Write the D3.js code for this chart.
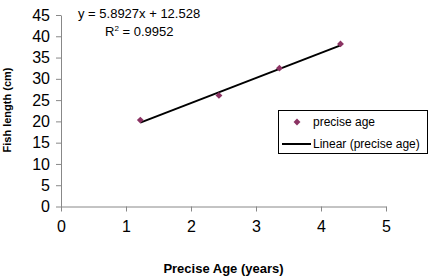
<!DOCTYPE html>
<html>
<head>
<meta charset="utf-8">
<script src="https://cdn.jsdelivr.net/npm/d3@7"></script>
<style>
  body { margin: 0; background: #fff; }
  svg text { font-family: "Liberation Sans", Arial, sans-serif; fill: #000; }
  .axis path, .axis line { stroke: #888; }
</style>
</head>
<body>
<div id="chart"></div>
<script>
// precise age (years) vs fish length (cm)
var ages = [1.22, 2.43, 3.36, 4.30];
var lengths = [20.3, 26.1, 32.5, 38.2];
// trendline as printed on the chart
var slope = 5.8927, intercept = 12.528, rSquared = 0.9952;
var xTicks = [0, 1, 2, 3, 4, 5];
var yTicks = [0, 5, 10, 15, 20, 25, 30, 35, 40, 45];

var width = 432, height = 277;
var margin = {top: 15, right: 46, bottom: 71, left: 61};

var svg = d3.select('#chart').append('svg')
  .attr('width', width)
  .attr('height', height);

var x = d3.scaleLinear().domain([0, 5]).range([margin.left, width - margin.right]);
var y = d3.scaleLinear().domain([0, 45]).range([height - margin.bottom + 0.5, margin.top]);

// axes
svg.append('g')
  .attr('class', 'axis')
  .attr('transform', 'translate(0,' + y(0) + ')')
  .call(d3.axisBottom(x).tickValues(xTicks).tickFormat(d3.format('d'))
    .tickSize(5).tickPadding(9).tickSizeOuter(0))
  .selectAll('text').style('font-size', '16px');

svg.append('g')
  .attr('class', 'axis')
  .attr('transform', 'translate(' + x(0) + ',0)')
  .call(d3.axisLeft(y).tickValues(yTicks).tickSize(5).tickPadding(6).tickSizeOuter(0))
  .selectAll('text').style('font-size', '16px');

// axis titles
svg.append('text')
  .attr('x', (x(0) + x(5)) / 2)
  .attr('y', 273)
  .attr('text-anchor', 'middle')
  .style('font-size', '13px')
  .style('font-weight', 'bold')
  .text('Precise Age (years)');

svg.append('text')
  .attr('transform', 'translate(11,' + 110 + ') rotate(-90)')
  .attr('text-anchor', 'middle')
  .style('font-size', '11px')
  .style('font-weight', 'bold')
  .text('Fish length (cm)');

// trendline from first to last age
var xExt = d3.extent(ages);
svg.append('line')
  .attr('x1', x(xExt[0])).attr('y1', y(slope * xExt[0] + intercept))
  .attr('x2', x(xExt[1])).attr('y2', y(slope * xExt[1] + intercept))
  .attr('stroke', '#000')
  .attr('stroke-width', 2);

// points
var diamond = d3.symbol().type(d3.symbolDiamond2).size(30);
svg.selectAll('.pt')
  .data(ages)
  .enter().append('path')
  .attr('class', 'pt')
  .attr('transform', function(d, i) { return 'translate(' + x(d) + ',' + y(lengths[i]) + ')'; })
  .attr('d', diamond)
  .attr('fill', '#8B3363');

// equation
svg.append('text')
  .attr('x', 78).attr('y', 18)
  .style('font-size', '13px')
  .text('y = ' + slope + 'x + ' + intercept);

var r2 = svg.append('text')
  .attr('x', 105).attr('y', 36)
  .style('font-size', '13px');
r2.append('tspan').text('R');
r2.append('tspan').attr('dy', -5).style('font-size', '8px').text('2');
r2.append('tspan').attr('dy', 5).text(' = ' + rSquared);

// legend
var lg = svg.append('g').attr('transform', 'translate(278,110)');
lg.append('rect')
  .attr('x', 0.5).attr('y', 0.5)
  .attr('width', 149).attr('height', 43)
  .attr('fill', '#fff')
  .attr('stroke', '#000');
lg.append('path')
  .attr('transform', 'translate(19,12)')
  .attr('d', diamond)
  .attr('fill', '#8B3363');
lg.append('text').attr('x', 35).attr('y', 16).style('font-size', '12px').text('precise age');
lg.append('line')
  .attr('x1', 4).attr('x2', 33).attr('y1', 34).attr('y2', 34)
  .attr('stroke', '#000').attr('stroke-width', 2);
lg.append('text').attr('x', 35).attr('y', 38).style('font-size', '12px').text('Linear (precise age)');
</script>
</body>
</html>
